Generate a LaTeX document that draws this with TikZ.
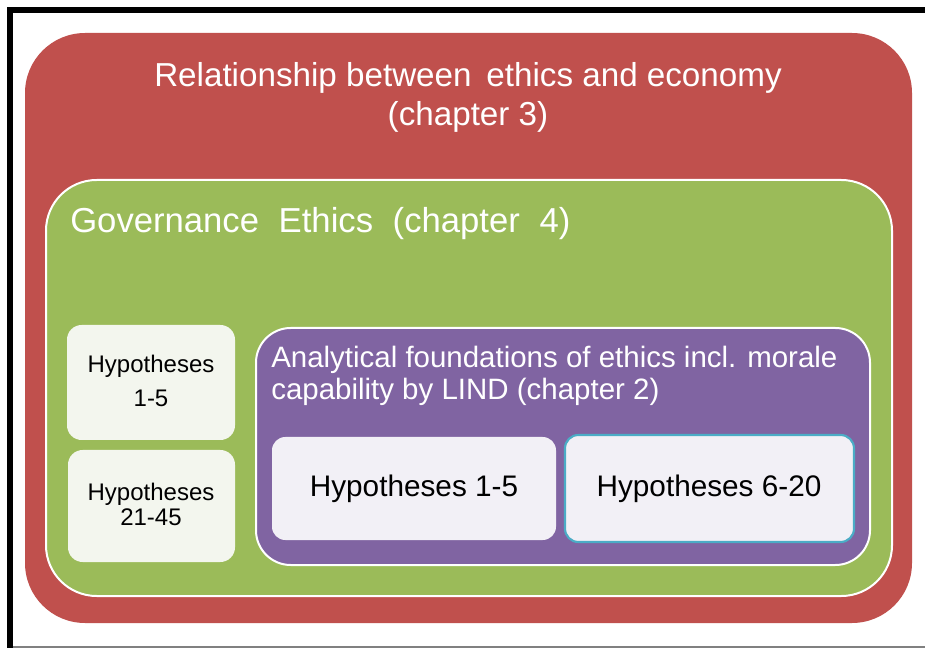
\documentclass[tikz,border=0pt]{standalone}
\usepackage{fontspec}
\setmainfont{Liberation Sans}
\definecolor{cred}{HTML}{C0504D}
\definecolor{cgreen}{HTML}{9BBB59}
\definecolor{cpurple}{HTML}{8064A2}
\definecolor{clight}{HTML}{F3F6EE}
\definecolor{cinner}{HTML}{F2F0F6}
\definecolor{cteal}{HTML}{4BACC6}
\begin{document}
\begin{tikzpicture}[x=0.75pt,y=-0.75pt,
  redbox/.style={fill=cred,draw=none,rounded corners=45},
  greenbox/.style={fill=cgreen,draw=white,line width=1.5pt,rounded corners=38},
  purplebox/.style={fill=cpurple,draw=white,line width=1.5pt,rounded corners=26},
  smallbox/.style={fill=clight,draw=none,rounded corners=11},
  innerbox/.style={fill=cinner,draw=none,rounded corners=10},
  tealbox/.style={fill=cinner,draw=cteal,line width=1.6pt,rounded corners=10},
  wtxt/.style={text=white,inner sep=0pt,anchor=base},
  btxt/.style={text=black,inner sep=0pt,anchor=base}]
\useasboundingbox (0,0) rectangle (925,648);
\fill[white] (0,0) rectangle (925,648);
% frame
\fill[black] (7,7) rectangle (13,648);
\fill[black] (7,7) rectangle (925,13);
\draw[gray,line width=0.8pt] (13,647) -- (925,647);
% boxes
\path[redbox] (25,33) rectangle (912,623);
\draw[greenbox] (46,180) rectangle (892,596);
\draw[purplebox] (256,328) rectangle (870,565);
\path[smallbox] (67,325) rectangle (235,440);
\path[smallbox] (68,450) rectangle (235,562);
\path[innerbox] (272,437) rectangle (556,540);
\draw[tealbox] (565,435) rectangle (854,542);
% texts
\node[wtxt,font=\fontsize{24.9pt}{29pt}\selectfont] (t1) at (468,87) {Relationship between\, ethics and economy};
\node[wtxt,font=\fontsize{24.9pt}{29pt}\selectfont] (t1b) at (468,126) {(chapter 3)};
\node[wtxt,anchor=base west,font=\fontsize{26pt}{30pt}\selectfont] (t2) at (70,233) {Governance\hspace{7.5pt} Ethics\hspace{7.5pt} (chapter\hspace{7.5pt} 4)};
\node[wtxt,anchor=base west,font=\fontsize{22.1pt}{26pt}\selectfont] (t3) at (271,368) {Analytical foundations of ethics incl. morale};
\node[wtxt,anchor=base west,font=\fontsize{22.1pt}{26pt}\selectfont] (t3b) at (271,400) {capability by LIND (chapter 2)};
\node[btxt,font=\fontsize{22.3pt}{26pt}\selectfont] (h1) at (414,497) {Hypotheses 1-5};
\node[btxt,font=\fontsize{22.3pt}{26pt}\selectfont] (h2) at (709,497) {Hypotheses 6-20};
\node[btxt,font=\fontsize{18pt}{22pt}\selectfont] (s1) at (151,373) {Hypotheses};
\node[btxt,font=\fontsize{18pt}{22pt}\selectfont] (s1b) at (151,407) {1-5};
\node[btxt,font=\fontsize{18pt}{22pt}\selectfont] (s2) at (151,500) {Hypotheses};
\node[btxt,font=\fontsize{18pt}{22pt}\selectfont] (s2b) at (151,526) {21-45};
\end{tikzpicture}
\end{document}
